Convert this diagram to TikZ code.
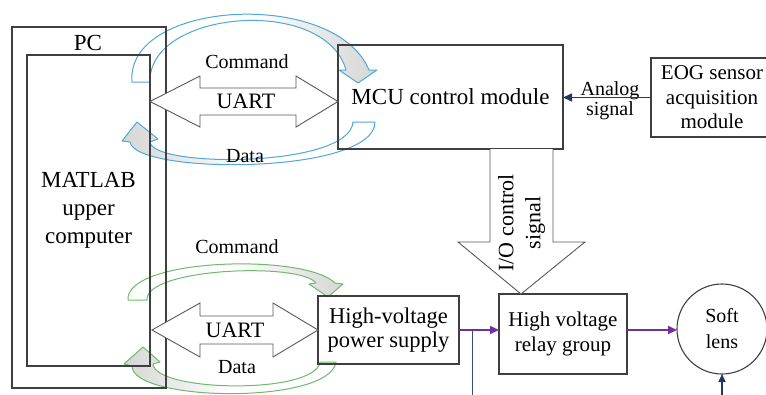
\documentclass[tikz,border=0pt]{standalone}
\usepackage{fontspec}
\setmainfont{Liberation Serif}
\usetikzlibrary{arrows.meta,calc}
\definecolor{boxc}{HTML}{3F3F3F}
\definecolor{arrc}{HTML}{595959}
\definecolor{navy}{HTML}{1F3864}
\definecolor{purp}{HTML}{7030A0}
\definecolor{bluec}{HTML}{4FA8D6}
\definecolor{greenc}{HTML}{6DBB6A}
\definecolor{grayf}{HTML}{D6D6D6}
\definecolor{steel}{HTML}{3C4C7C}
\begin{document}
\begin{tikzpicture}[x=1pt,y=-1pt,
  every node/.style={inner sep=0pt,outer sep=0pt},
  box/.style={draw=boxc,line width=1.1pt,align=center,font=\fontsize{21}{24.5}\selectfont},
  lbl/.style={anchor=base,font=\fontsize{20}{24}\selectfont},
  dbl/.style={draw=arrc,line width=0.9pt,fill=white,line join=miter},
  bendarrow/.style={line width=1pt,line join=round},
  toright/.style={left color=white,right color=grayf,middle color=white},
  toleft/.style={left color=grayf,right color=white,middle color=white},
  tip/.style={-{Triangle[length=9pt,width=8pt]}}
]
\useasboundingbox (0,0) rectangle (766,394);
\clip (0,0) rectangle (766,394);
\fill[white] (0,0) rectangle (766,394);

% curved arrows (behind boxes)
\path[bendarrow,draw=bluec,toright]
  (132,82) -- (150,82) .. controls (148,10) and (325,-5) .. (346,70)
  -- (339,70) -- (358,83) -- (377,70) -- (369,70)
  .. controls (335,-12) and (125,0) .. (132,82) -- cycle;
\path[bendarrow,draw=bluec,toleft]
  (353,122) -- (375,122) .. controls (375,175) and (135,175) .. (130,142)
  -- (122,141) -- (137,122) -- (158,139) -- (150,142)
  .. controls (152,168) and (350,168) .. (353,122) -- cycle;
\path[bendarrow,draw=greenc,toright]
  (128,300) -- (147,300) .. controls (145,268) and (300,262) .. (316,283)
  -- (309,284) -- (328,297) -- (343,284) -- (335,283)
  .. controls (305,253) and (125,258) .. (128,300) -- cycle;
\path[bendarrow,draw=greenc,toleft]
  (320,362) -- (336,362) .. controls (330,405) and (132,402) .. (132,366)
  -- (124,364) -- (143,347) -- (160,362) -- (153,364)
  .. controls (155,392) and (315,395) .. (320,362) -- cycle;

% boxes
\node[box,minimum width=154,minimum height=361] (pc) at (89,207.5) {};
\node[box,minimum width=123,minimum height=311,font=\fontsize{23}{28}\selectfont] (matlab) at (88.5,210.5) {MATLAB\\upper\\computer};
\node[lbl,font=\fontsize{23}{28}\selectfont] (pclbl) at (88,50) {PC};
\node[box,minimum width=225,minimum height=104,font=\fontsize{23}{27}\selectfont] (mcu) at (450.5,97) {MCU control module};
\node[box,minimum width=122,minimum height=79] (eog) at (712,97.5) {EOG sensor\\acquisition\\module};
\node[box,minimum width=141,minimum height=68,font=\fontsize{22.5}{24.5}\selectfont] (hv) at (388.5,330) {High-voltage\\power supply};
\node[box,minimum width=128,minimum height=80,font=\fontsize{21}{25}\selectfont] (relay) at (563,334) {High voltage\\relay group};
\node[box,circle,minimum size=90,font=\fontsize{20}{26}\selectfont] (lens) at (722,329) {Soft\\lens};

% double arrows (UART)
\draw[dbl] (150,101.5) -- (200,76) -- (200,88) -- (296,88) -- (296,76) -- (338,101.5)
  -- (296,127) -- (296,115) -- (200,115) -- (200,127) -- cycle;
\draw[dbl] (152,330) -- (200,303) -- (200,316) -- (273,316) -- (273,303) -- (318,330)
  -- (273,357) -- (273,344) -- (200,344) -- (200,357) -- cycle;

% I/O control block arrow
\draw[dbl] (490,149) -- (490,242) -- (458,242) -- (521,294) -- (585,242) -- (553,242) -- (553,149);
\node[rotate=90,align=center,font=\fontsize{22}{27}\selectfont] (io) at (521.5,223) {I/O control\\signal};

% labels
\node[lbl] (cmd1) at (247,68) {Command};
\node[lbl,font=\fontsize{22}{24}\selectfont] (uart1) at (246,108) {UART};
\node[lbl] (data1) at (245,162) {Data};
\node[lbl] (cmd2) at (237,253) {Command};
\node[lbl,font=\fontsize{22}{24}\selectfont] (uart2) at (235,337) {UART};
\node[lbl] (data2) at (237,373) {Data};
\node[lbl] (an) at (610,95) {Analog};
\node[lbl] (sg) at (610,115) {signal};

% connectors
\draw[navy,line width=1.6pt,tip] (eog.west) -- (eog.west -| mcu.east);
\draw[purp,line width=1.8pt,tip] (hv.east) -- (hv.east -| relay.west);
\draw[purp,line width=1.8pt,tip] (hv.east -| relay.east) -- (hv.east -| lens.west);
\coordinate (junc) at ($(hv.east)+(13.5,0)$);
\coordinate (vb) at ($(junc)+(0,80)$);
\draw[steel,line width=1.2pt] (junc) -- (vb);
\coordinate (lb) at ($(lens.south)+(0,40)$);
\draw[navy,line width=1.5pt,-{Triangle[length=8pt,width=7pt]}] (lb) -- (lens.south);
\end{tikzpicture}
\end{document}
